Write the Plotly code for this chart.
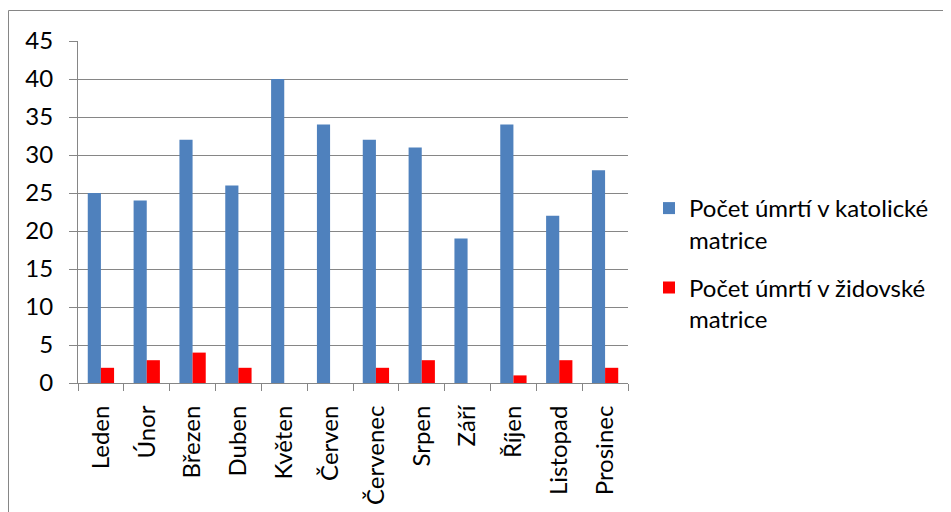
import plotly.graph_objects as go

months = ["Leden", "Únor", "Březen", "Duben", "Květen", "Červen", "Červenec",
          "Srpen", "Září", "Říjen", "Listopad", "Prosinec"]
katolicke = [25, 24, 32, 26, 40, 34, 32, 31, 19, 34, 22, 28]
zidovske = [2, 3, 4, 2, 0, 0, 2, 3, 0, 1, 3, 2]
y_ticks = [0, 5, 10, 15, 20, 25, 30, 35, 40, 45]

OFF = 8  # page body margin
W, H = 951 - OFF, 512 - OFF
L, T = 78 - OFF, 41 - OFF
R = W - (628 - OFF)
B = H - (383 - OFF)
pw, ph = W - L - R, H - T - B

def px(x):
    return (x - OFF - L) / pw

def py(y):
    return (H - B - (y - OFF)) / ph

font = "Lato, Open Sans, sans-serif"
grid = "#868686"
FS = 24

fig = go.Figure()
fig.add_trace(go.Bar(x=months, y=katolicke, name="Počet úmrtí v katolické<br>matrice",
                     legendgroup="a",
                     marker=dict(color="#4F81BD", line=dict(width=0))))
fig.add_trace(go.Bar(x=months, y=zidovske, name="Počet úmrtí v židovské<br>matrice",
                     legendgroup="b",
                     marker=dict(color="#FF0000", line=dict(width=0))))

fig.update_layout(
    width=W, height=H,
    margin=dict(l=L, r=R, t=T, b=B, autoexpand=False),
    paper_bgcolor="white", plot_bgcolor="white",
    barmode="group", bargap=0.426, bargroupgap=0,
    font=dict(family=font, size=FS, color="black"),
    showlegend=True,
    legend=dict(x=px(649), y=py(186), xanchor="left", yanchor="top",
                font=dict(size=FS), tracegroupgap=14, valign="top",
                bgcolor="rgba(0,0,0,0)"),
    xaxis=dict(type="category", tickangle=-90, showgrid=False, automargin=False,
               showline=True, linecolor=grid, linewidth=1,
               ticks="outside", tickson="boundaries", ticklen=7, tickcolor=grid,
               ticklabelstandoff=12, tickfont=dict(size=FS)),
    yaxis=dict(range=[0, 45], tickvals=y_ticks, showgrid=True, gridcolor=grid,
               gridwidth=1, showline=True, linecolor=grid, linewidth=1, automargin=False,
               ticks="outside", ticklen=8, tickcolor=grid, zeroline=False,
               ticklabelstandoff=11, tickfont=dict(size=FS)),
    shapes=[dict(type="rect", xref="paper", yref="paper",
                 x0=px(8.5), x1=px(960), y0=py(530), y1=py(10.5),
                 line=dict(color=grid, width=1), layer="below")],
)

fig.write_html("out.html")
